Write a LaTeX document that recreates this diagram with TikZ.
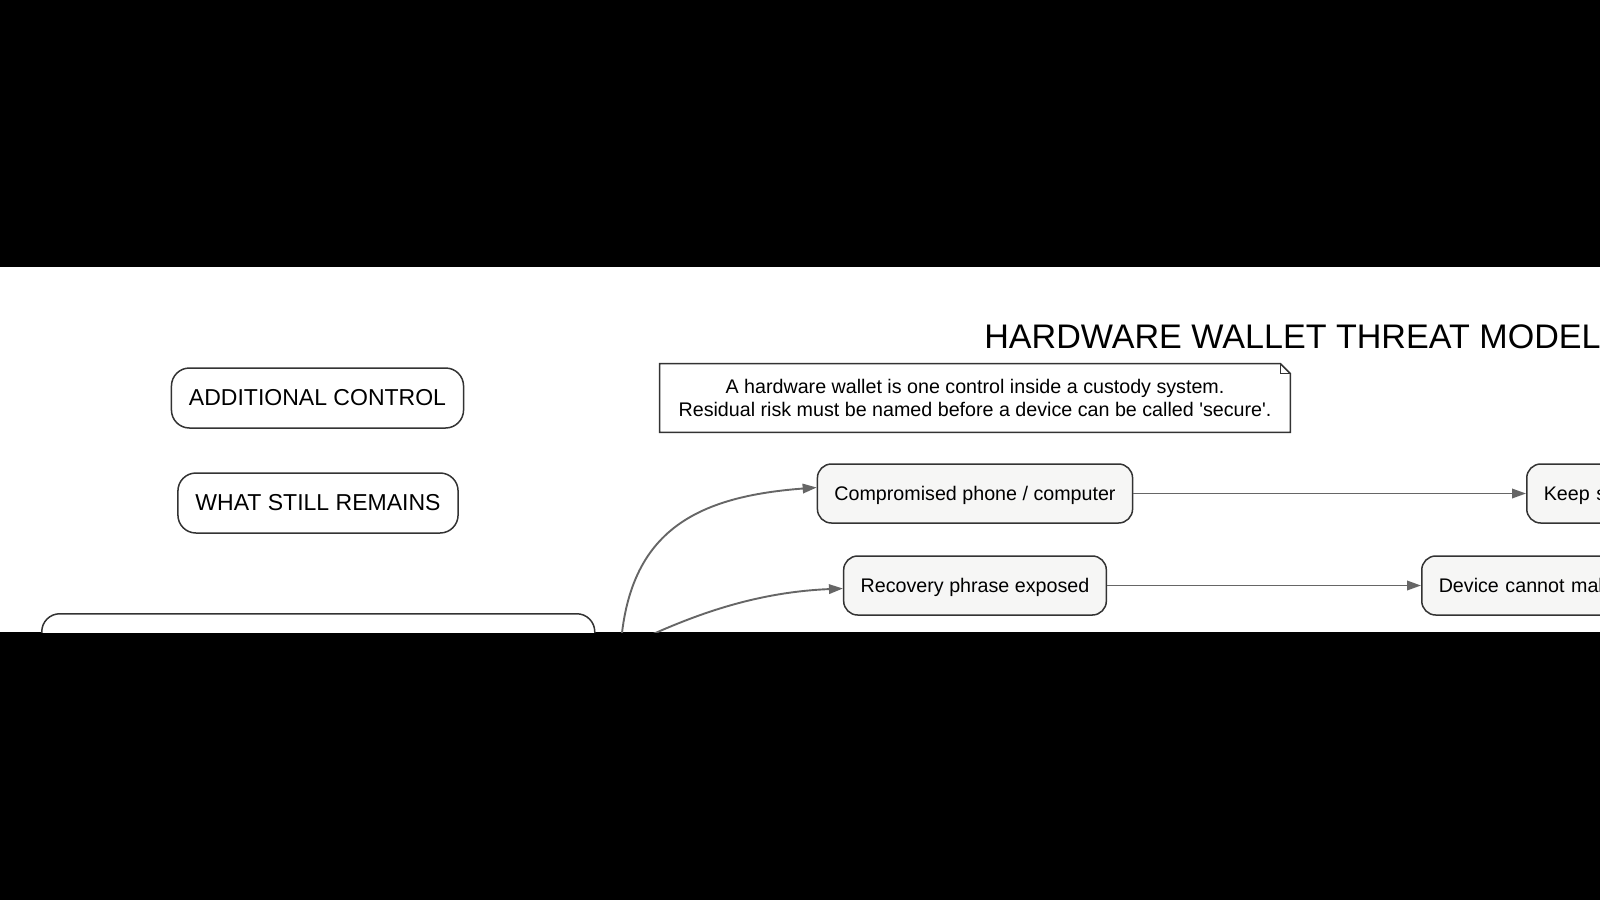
\documentclass[tikz,border=0pt]{standalone}
\usepackage{fontspec}
\setmainfont{Liberation Sans}
\usetikzlibrary{positioning, arrows.meta, calc}

\begin{document}
\begin{tikzpicture}[x=0.2mm, y=-0.2mm, >={Triangle[length=2.8mm, width=1.9mm]},
    flowbox/.style={draw=boxline, fill=boxfill, line width=0.3mm, rounded corners=2.8mm,
        inner xsep=3.4mm, inner ysep=0mm, minimum height=11.8mm, text depth=0pt,
        font=\fontsize{11.2}{13.4}\selectfont},
    labelbox/.style={draw=boxline, fill=white, line width=0.3mm, rounded corners=3.6mm,
        inner xsep=3.5mm, inner ysep=0mm, minimum height=12mm, font=\fontsize{13.1}{15.7}\selectfont},
    flow/.style={->, draw=linkcolor, line width=0.38mm}]
    \definecolor{boxline}{HTML}{333333}
    \definecolor{boxfill}{HTML}{F6F6F5}
    \definecolor{linkcolor}{HTML}{666666}

    % --- Frame ---
    \useasboundingbox (0,0) rectangle (1600,900);
    \fill[black] (0,0) rectangle (1600,267);
    \fill[black] (0,632) rectangle (1600,900);

    \begin{scope}
        \clip (0,267) rectangle (1600,632);

        % Title
        \node[anchor=base west, inner sep=0, font=\fontsize{19.4}{24}\selectfont] (title) at (984,348) {HARDWARE WALLET THREAT MODEL};

        % Note with folded corner
        \node[minimum width=126mm, minimum height=13.6mm, align=center, inner sep=0,
            font=\fontsize{11.2}{13.4}\selectfont] (note) at (975,398)
            {A hardware wallet is one control inside a custody system.\\
             Residual risk must be named before a device can be called \textquotesingle secure\textquotesingle.};
        \draw[draw=boxline, line width=0.3mm] (note.south west) -- (note.north west)
            -- ($(note.north east)+(-10,0)$) -- ($(note.north east)+(0,10)$) -- (note.south east) -- cycle;
        \draw[draw=boxline, line width=0.3mm] ($(note.north east)+(-10,0)$) -- ($(note.north east)+(-10,10)$)
            -- ($(note.north east)+(0,10)$);

        % --- Left column ---
        \node[labelbox] (control) at (317.5,398) {ADDITIONAL CONTROL};
        \node[labelbox] (remains) at (318,503) {WHAT STILL REMAINS};
        \node[labelbox, anchor=north west, minimum width=110.6mm, minimum height=20mm] (lower) at (41,613) {};

        % --- Threats ---
        \node[flowbox] (comp) at (975,493.5) {Compromised phone / computer};
        \node[flowbox] (rec) at (975,585.5) {Recovery phrase exposed};

        % --- Responses (cut at the right edge) ---
        \node[flowbox, anchor=west, text width=100mm, align=left] (keep) at (1526,493.5) {Keep s};
        \node[flowbox, anchor=west, text width=100mm, align=left] (dev) at (1421,585.5) {Device cannot mal};

        % --- Links ---
        \coordinate (src1) at (620,660);
        \coordinate (src2) at (640,640);
        \draw[flow] (src1) .. controls (624,535) and (690,497) .. ($(comp.west)+(0,-6)$);
        \draw[flow] (src2) .. controls (700,612) and (760,592) .. ($(rec.west)+(0,3)$);
        \draw[flow] (comp) -- (keep);
        \draw[flow] (rec) -- (dev);
    \end{scope}
\end{tikzpicture}
\end{document}
